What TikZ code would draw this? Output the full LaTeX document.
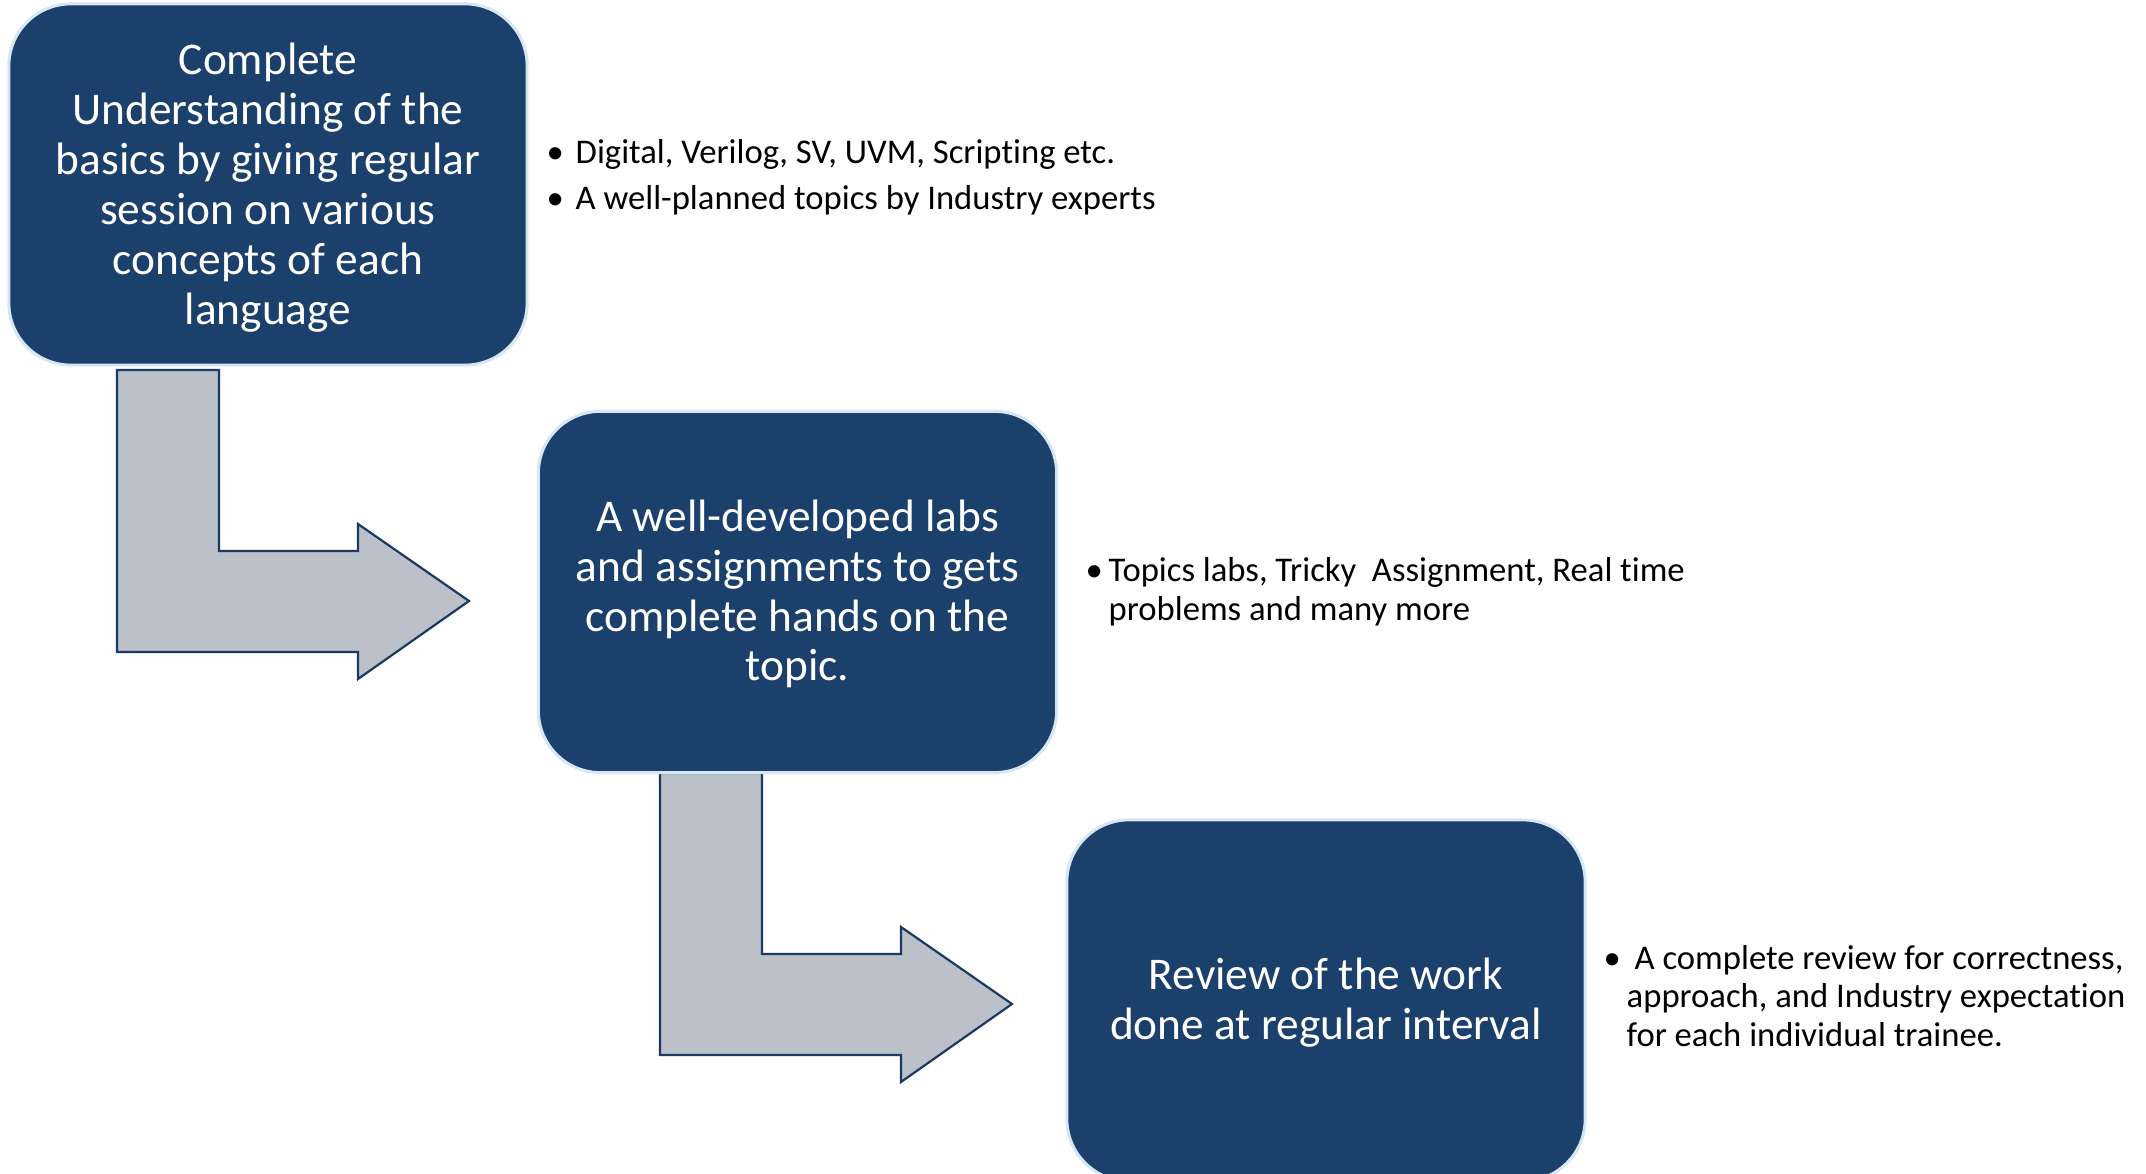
\documentclass[tikz,border=0pt]{standalone}
\usepackage{fontspec}
\setmainfont{Carlito}[Ligatures={NoCommon}]
\definecolor{navy}{RGB}{27,64,108}
\definecolor{rim}{RGB}{214,230,243}
\definecolor{arrowfill}{RGB}{188,192,200}
\definecolor{arrowline}{RGB}{27,58,99}
\tikzset{
  stagebox/.style={draw=rim, line width=0.03cm, fill=navy, rounded corners=0.62cm,
    minimum width=5.18cm, minimum height=3.61cm, inner sep=0pt},
  boxtext/.style={inner sep=0pt, text=white, align=center,
    font=\fontsize{12.9}{14.2}\selectfont},
  bentarrow/.style={draw=arrowline, line width=0.022cm, fill=arrowfill, line join=miter},
  listtext/.style={anchor=base west, inner sep=0pt, text=black,
    font=\fontsize{9.85}{10.67}\selectfont},
  bulletmark/.style={anchor=base west, inner sep=0pt, text=black,
    font=\fontsize{9.85}{10.67}\selectfont}
}
\begin{document}
\begin{tikzpicture}[x=0.01cm, y=-0.01cm]
\useasboundingbox (0,0) rectangle (2146,1174);
\clip (0,0) rectangle (2146,1174);
\fill[white] (0,0) rectangle (2146,1174);

% bent arrows
\foreach \ox/\oy in {117/370, 660/773}{
  \draw[bentarrow, shift={(\ox,\oy)}] (0,0) -- (102,0) -- (102,181) -- (241,181) -- (241,154)
     -- (352,231) -- (241,309) -- (241,282) -- (0,282) -- cycle;
}

% stage boxes
\node[stagebox] (b1) at (268,184.5) {};
\node[stagebox] (b2) at (797.5,592) {};
\node[stagebox] (b3) at (1326,1000.5) {};
\node[boxtext] (l1) at ([yshift=-0.03cm]b1.center) {Complete\\Understanding of the\\basics by giving regular\\session on various\\concepts of each\\language};
\node[boxtext] (l2) at ([yshift=-0.02cm]b2.center) {A well-developed labs\\and assignments to gets\\complete hands on the\\topic.};
\node[boxtext] (l3) at ([yshift=-0.02cm]b3.center) {Review of the work\\done at regular interval};

% bullet lists
\node[bulletmark] (m1a) at (546,164) {\textbullet};
\node[listtext] (t1a) at (575,164) {Digital, Verilog, SV, UVM, Scripting etc.};
\node[bulletmark] (m1b) at (546,210) {\textbullet};
\node[listtext] (t1b) at (575,210) {A well-planned topics by Industry experts};

\node[bulletmark] (m2) at (1085,582) {\textbullet};
\node[listtext] (t2a) at (1108,582) {Topics labs, Tricky\ \ Assignment, Real time};
\node[listtext] (t2b) at (1108,621) {problems and many more};

\node[bulletmark] (m3) at (1603,970) {\textbullet};
\node[listtext] (t3a) at (1634,970) {A complete review for correctness,};
\node[listtext] (t3b) at (1626,1008) {approach, and Industry expectation};
\node[listtext] (t3c) at (1626,1046) {for each individual trainee.};
\end{tikzpicture}
\end{document}
